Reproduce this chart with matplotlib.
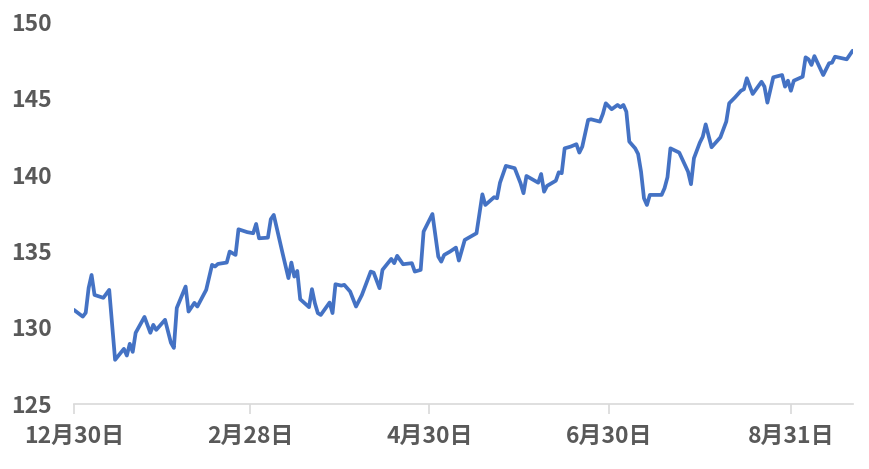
import matplotlib
matplotlib.use("Agg")
import matplotlib.pyplot as plt
import matplotlib.dates as mdates
import numpy as np
import pandas as pd

plt.rcParams['font.family'] = ['Noto Sans CJK JP', 'DejaVu Sans']

start_date = "2020-12-30"
day_offsets = [0, 3, 4, 5, 6, 7, 10, 12, 14, 17, 18, 19, 20, 21, 24, 26, 27, 28, 31, 33,
               34, 35, 38, 39, 41, 42, 45, 47, 48, 49, 52, 53, 55, 56, 59, 61, 62, 63, 66, 67,
               68, 71, 73, 74, 75, 76, 77, 80, 81, 82, 83, 84, 87, 88, 89, 91, 92, 94, 96, 98,
               101, 102, 104, 105, 108, 109, 110, 112, 115, 116, 118, 119, 122, 124, 125, 126, 128, 130, 131, 133,
               135, 137, 139, 140, 143, 144, 145, 147, 150, 152, 153, 154, 158, 159, 160, 161, 164, 165, 166, 167,
               169, 171, 172, 173, 175, 176, 179, 180, 181, 183, 185, 186, 187, 188, 189, 191, 192, 193, 194, 195,
               196, 200, 201, 202, 203, 206, 209, 210, 211, 213, 214, 215, 217, 220, 222, 223, 225, 227, 228, 229,
               231, 234, 235, 236, 238, 241, 242, 243, 244, 245, 248, 249, 250, 251, 252, 255, 257, 258, 259, 263,
               265]
values = [131.15, 130.71, 130.96, 132.59, 133.44, 132.13, 131.94, 132.46, 127.88, 128.60,
          128.16, 128.93, 128.40, 129.65, 130.69, 129.65, 130.17, 129.84, 130.50, 129.00,
          128.66, 131.28, 132.68, 131.04, 131.61, 131.37, 132.46, 134.10, 133.99, 134.16,
          134.25, 134.97, 134.75, 136.43, 136.24, 136.17, 136.78, 135.84, 135.88, 137.09,
          137.37, 134.86, 133.23, 134.25, 133.33, 133.70, 131.85, 131.33, 132.51, 131.59,
          130.94, 130.82, 131.63, 130.94, 132.83, 132.74, 132.79, 132.35, 131.37, 132.13,
          133.66, 133.59, 132.57, 133.77, 134.49, 134.21, 134.69, 134.14, 134.21, 133.66,
          133.77, 136.28, 137.43, 134.64, 134.31, 134.75, 134.97, 135.23, 134.38, 135.73,
          135.95, 136.17, 138.72, 138.02, 138.53, 138.46, 139.48, 140.58, 140.43, 139.44,
          138.79, 139.92, 139.48, 140.05, 138.89, 139.27, 139.61, 140.16, 140.10, 141.73,
          141.84, 142.00, 141.45, 141.84, 143.59, 143.63, 143.48, 143.98, 144.68, 144.29,
          144.57, 144.42, 144.57, 144.13, 142.17, 141.73, 141.36, 140.20, 138.46, 138.02,
          138.68, 138.68, 139.12, 139.84, 141.73, 141.45, 140.20, 139.38, 141.08, 142.10,
          142.49, 143.30, 141.80, 142.45, 143.48, 144.68, 145.07, 145.50, 145.60, 146.32,
          145.29, 146.09, 145.77, 144.72, 146.38, 146.53, 145.77, 146.16, 145.50, 146.16,
          146.42, 147.69, 147.56, 147.19, 147.77, 146.53, 147.30, 147.34, 147.73, 147.56,
          148.12]
tick_dates = ["2020-12-30", "2021-02-28", "2021-04-30", "2021-06-30", "2021-08-31"]
tick_labels = ["12月30日", "2月28日", "4月30日", "6月30日", "8月31日"]
y_ticks = [125, 130, 135, 140, 145, 150]

dates = pd.Timestamp(start_date) + pd.to_timedelta(day_offsets, unit="D")

fig = plt.figure(figsize=(8.7, 4.69), dpi=100)
ax = fig.add_axes([0.085, 0.139, 0.895, 0.814])
ax.plot(dates, values, color="#4472C4", linewidth=2.7, solid_joinstyle="round",
        solid_capstyle="round")

ax.set_ylim(125, 150)
ax.set_yticks(y_ticks)
ax.set_xlim(dates[0], dates[-1])
ax.set_xticks(pd.to_datetime(tick_dates))
ax.set_xticklabels(tick_labels)

for s in ["top", "right", "left"]:
    ax.spines[s].set_visible(False)
ax.spines["bottom"].set_color("#D9D9D9")
ax.spines["bottom"].set_linewidth(1.2)

ax.tick_params(axis="x", colors="#D9D9D9", length=7, width=1.2, pad=8)
ax.tick_params(axis="y", length=0, pad=16)
for lab in ax.get_xticklabels() + ax.get_yticklabels():
    lab.set_color("#595959")
    lab.set_fontsize(16.5)
    lab.set_fontweight("bold")

fig.savefig("out.png", dpi=100)
